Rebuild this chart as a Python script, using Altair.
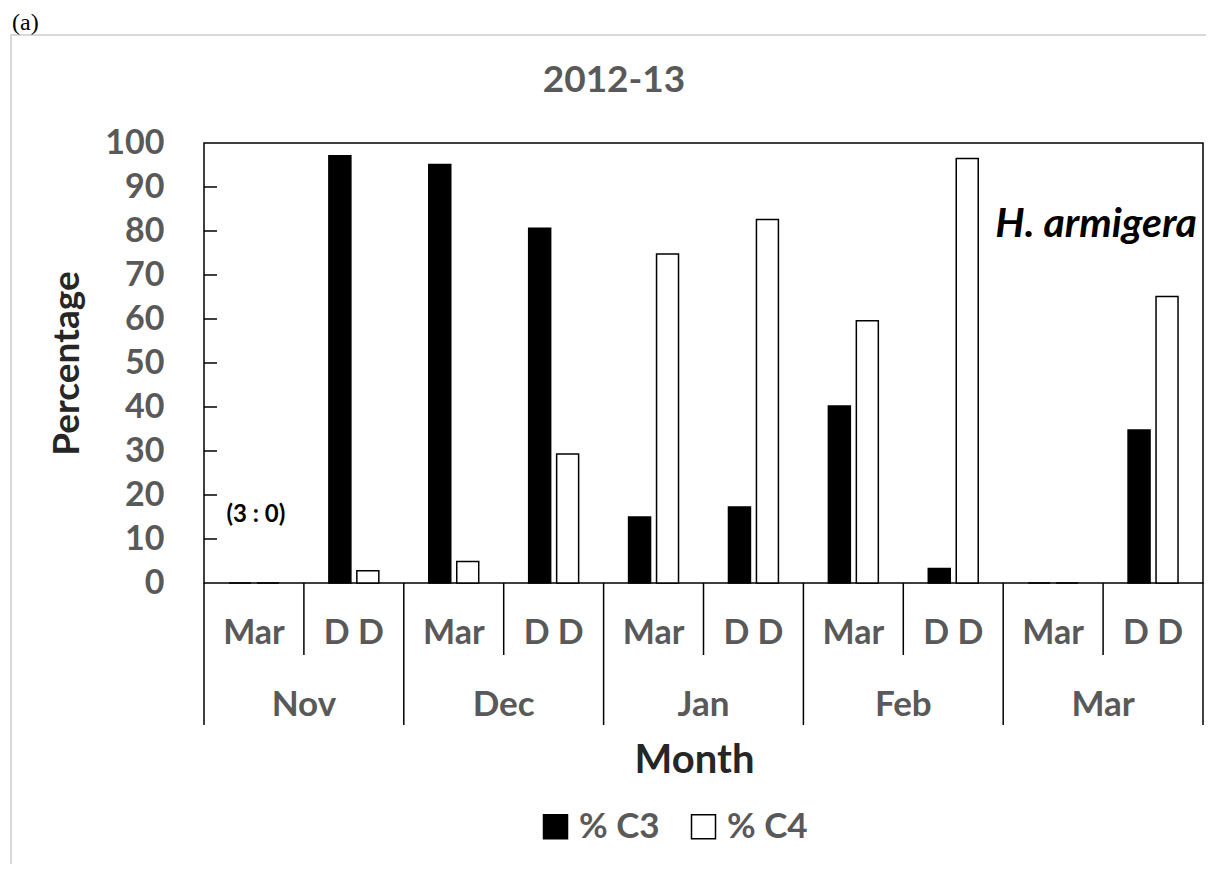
import altair as alt
import pandas as pd

# ---- data ----
months = ["Nov", "Dec", "Jan", "Feb", "Mar"]
sites = ["Mar", "D D"]
series = ["% C3", "% C4"]
c3_values = [0, 97.1, 95.1, 80.6, 15.0, 17.3, 40.2, 3.3, 0, 34.8]
c4_values = [0, 2.8, 4.9, 29.3, 74.8, 82.6, 59.6, 96.5, 0, 65.1]
y_ticks = [0, 10, 20, 30, 40, 50, 60, 70, 80, 90, 100]
inner_ticks = [10, 20, 30, 40, 50, 60, 70, 80, 90]
sample_note = "(3 : 0)"
species = "H. armigera"
panel = "(a)"
title_text = "2012-13"

FONT = "Lato"
GREY = "#595959"
DARK = "#262626"

subs = [f"{m}|{s}" for m in months for s in sites]
rows = []
for i, sub in enumerate(subs):
    rows.append({"sub": sub, "series": series[0], "value": c3_values[i]})
    rows.append({"sub": sub, "series": series[1], "value": c4_values[i]})
bars_df = pd.DataFrame(rows)

W, H = 999, 440
yscale = alt.Scale(domain=[0, 100], nice=False, zero=True)
qscale = alt.Scale(domain=[0, 10], nice=False, zero=False)

bars = alt.Chart(bars_df).mark_bar(stroke="black", strokeWidth=1.5).encode(
    x=alt.X("sub:N", sort=subs,
            scale=alt.Scale(paddingInner=0.5, paddingOuter=0.25),
            axis=alt.Axis(labelExpr="split(datum.label, '|')[1]", labelAngle=0,
                          ticks=False, tickSize=0, domain=False, grid=False,
                          labelPadding=50, labelBaseline="middle",
                          labelFont=FONT, labelFontSize=34, labelFontWeight="bold",
                          labelColor=GREY,
                          title="Month", titleFont=FONT, titleFontSize=40,
                          titleFontWeight="bold", titleColor=DARK,
                          titleX=490, titleY=177, titleAlign="center",
                          titleBaseline="middle")),
    xOffset=alt.XOffset("series:N", sort=series,
                        scale=alt.Scale(paddingInner=0.214, paddingOuter=0)),
    y=alt.Y("value:Q", scale=yscale,
            axis=alt.Axis(values=y_ticks, ticks=False, tickSize=0, domain=False,
                          grid=False, labelPadding=40,
                          labelFont=FONT, labelFontSize=34, labelFontWeight="bold",
                          labelColor=GREY,
                          title="Percentage", titleFont=FONT, titleFontSize=37,
                          titleFontWeight="bold", titleColor=DARK, titlePadding=18)),
    fill=alt.Fill("series:N", sort=series,
                  scale=alt.Scale(domain=series, range=["black", "white"]),
                  legend=alt.Legend(title=None, orient="none", legendX=334, legendY=666,
                                    direction="horizontal", symbolType="square",
                                    symbolSize=576, symbolStrokeColor="black",
                                    symbolStrokeWidth=1.5, labelFont=FONT,
                                    labelFontSize=35, labelFontWeight="bold",
                                    labelColor=GREY, labelOffset=6, columnPadding=26,
                                    labelLimit=300)),
)

# inward tick marks on the y axis
ticks = alt.Chart(pd.DataFrame({"t": inner_ticks})).mark_rule(
    color="black", strokeWidth=1.5).encode(
    y=alt.Y("t:Q", scale=yscale), x=alt.value(0), x2=alt.value(13))

# category separators below the plot
inner_sep = alt.Chart(pd.DataFrame({"p": [1, 3, 5, 7, 9]})).mark_rule(
    color="black", strokeWidth=1.5).encode(
    x=alt.X("p:Q", scale=qscale, axis=None), y=alt.value(H), y2=alt.value(512))
outer_sep = alt.Chart(pd.DataFrame({"p": [0, 2, 4, 6, 8, 10]})).mark_rule(
    color="black", strokeWidth=1.5).encode(
    x=alt.X("p:Q", scale=qscale, axis=None), y=alt.value(H), y2=alt.value(582))

month_labels = alt.Chart(pd.DataFrame({"m": months, "p": [1, 3, 5, 7, 9]})).mark_text(
    font=FONT, fontSize=35, fontWeight="bold", color=GREY, baseline="middle").encode(
    x=alt.X("p:Q", scale=qscale, axis=None), y=alt.value(562), text="m:N")

note = alt.Chart(pd.DataFrame({"p": [0.52], "v": [15.5], "t": [sample_note]})).mark_text(
    font=FONT, fontSize=24, fontWeight="bold", color="black", baseline="middle").encode(
    x=alt.X("p:Q", scale=qscale, axis=None), y=alt.Y("v:Q", scale=yscale), text="t:N")

spec_label = alt.Chart(pd.DataFrame({"p": [10], "v": [81.4], "t": [species]})).mark_text(
    font=FONT, fontSize=41, fontWeight="bold", fontStyle="italic", color="black",
    baseline="middle", align="right", dx=-6).encode(
    x=alt.X("p:Q", scale=qscale, axis=None), y=alt.Y("v:Q", scale=yscale), text="t:N")

title = alt.Chart(pd.DataFrame({"t": [title_text]})).mark_text(
    font=FONT, fontSize=37, fontWeight="bold", color=GREY, baseline="middle",
    align="center").encode(x=alt.value(410), y=alt.value(-62), text="t:N")

panel_label = alt.Chart(pd.DataFrame({"t": [panel]})).mark_text(
    font="Liberation Serif", fontSize=24, color="black", baseline="alphabetic",
    align="left").encode(x=alt.value(-192), y=alt.value(-113), text="t:N")

frame = alt.Chart(pd.DataFrame({"a": [0]})).mark_rect(
    fillOpacity=0, stroke="#d9d9d9", strokeWidth=2).encode(
    x=alt.value(-193), x2=alt.value(1013), y=alt.value(-108), y2=alt.value(740))

chart = alt.layer(
    frame, bars, ticks, inner_sep, outer_sep, month_labels, note, spec_label,
    title, panel_label
).resolve_scale(x="independent").properties(
    width=W, height=H,
    autosize=alt.AutoSizeParams(type="none"),
    padding={"left": 196, "top": 135, "right": 3, "bottom": 281},
).configure_view(stroke="black", strokeWidth=1.5)

chart.save("out.html", embed_options={"renderer": "svg", "actions": False})
